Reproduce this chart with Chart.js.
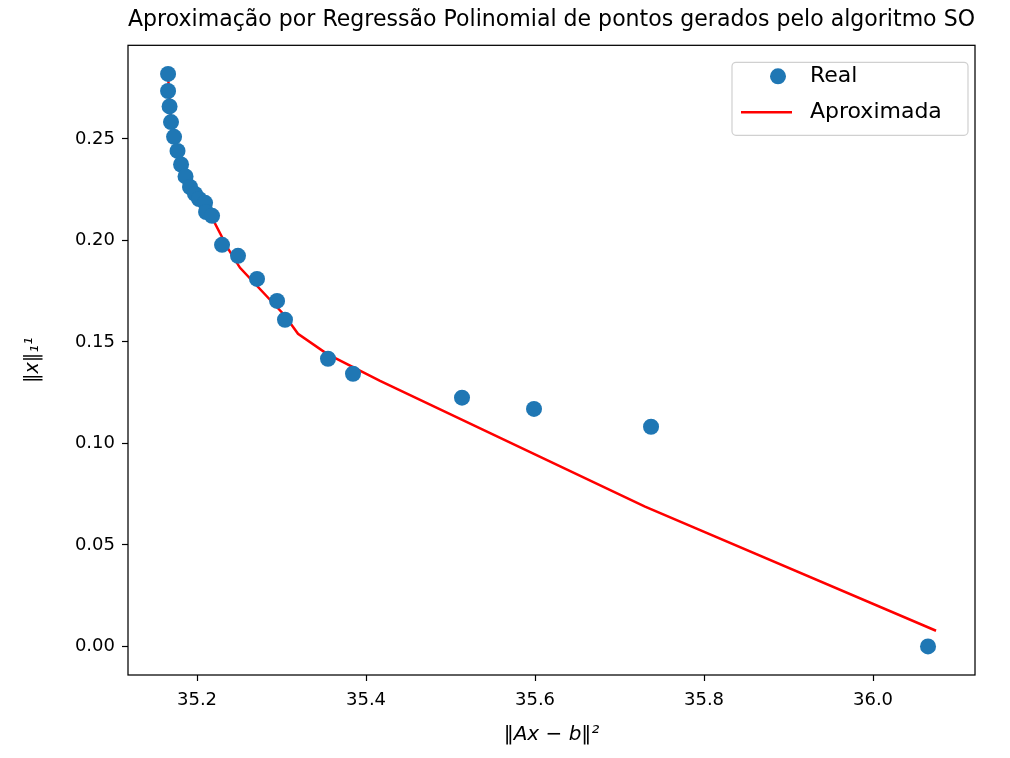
<!DOCTYPE html>
<html>
<head>
<meta charset="utf-8">
<script src="https://cdn.jsdelivr.net/npm/chart.js@4.4.0/dist/chart.umd.min.js"></script>
<style>
  html, body { margin: 0; padding: 0; background: #fff; }
  #wrap { width: 1010px; height: 758px; }
</style>
</head>
<body>
<div id="wrap"><canvas id="chart" width="1010" height="758"></canvas></div>
<script>
// Points from the SO algorithm
const realX = [35.1657, 35.1657, 35.1675, 35.1692, 35.1728, 35.1769, 35.1811, 35.1864, 35.1917,
               35.1976, 35.2024, 35.2095, 35.2107, 35.2178, 35.2296, 35.2485, 35.2710, 35.2947,
               35.3041, 35.3550, 35.3846, 35.5136, 35.5988, 35.7373, 36.0651];
const realY = [0.2820, 0.2736, 0.2660, 0.2583, 0.2510, 0.2441, 0.2374, 0.2315, 0.2263,
               0.2229, 0.2204, 0.2185, 0.2140, 0.2121, 0.1978, 0.1924, 0.1810, 0.1702,
               0.1609, 0.1417, 0.1343, 0.1225, 0.1170, 0.1082, 0.0000];

// Polynomial approximation curve
const fitX = [35.1657, 35.1692, 35.1751, 35.1811, 35.1893, 35.2012, 35.2154, 35.2367, 35.2509,
              35.3041, 35.3195, 35.3538, 35.4166, 35.7302, 36.0746];
const fitY = [0.2810, 0.2589, 0.2490, 0.2392, 0.2294, 0.2225, 0.2131, 0.1959, 0.1865,
              0.1629, 0.1540, 0.1441, 0.1308, 0.0688, 0.0077];

const xTicks = [35.2, 35.4, 35.6, 35.8, 36.0];
const yTicks = [0.00, 0.05, 0.10, 0.15, 0.20, 0.25];

const seriesNames = ['Real', 'Aproximada'];
const blue = '#1f77b4';
const red = '#ff0000';
const FONT = "'DejaVu Sans', sans-serif";

// frame around the plot + legend inside the plot area
const framePlugin = {
    id: 'frame',
    afterDraw(chart) {
        const { ctx, chartArea: a } = chart;
        ctx.save();
        ctx.strokeStyle = '#000';
        ctx.lineWidth = 1.25;
        ctx.strokeRect(a.left, a.top, a.right - a.left, a.bottom - a.top);

        // legend box
        const w = 236, h = 73;
        const bx = a.right - 7 - w, by = a.top + 17;
        ctx.beginPath();
        ctx.roundRect(bx, by, w, h, 4);
        ctx.fillStyle = 'rgba(255,255,255,0.8)';
        ctx.fill();
        ctx.strokeStyle = '#d0d0d0';
        ctx.lineWidth = 1.2;
        ctx.stroke();

        ctx.fillStyle = blue;
        ctx.beginPath();
        ctx.arc(bx + 46, by + 14, 8, 0, Math.PI * 2);
        ctx.fill();

        ctx.strokeStyle = red;
        ctx.lineWidth = 2.5;
        ctx.beginPath();
        ctx.moveTo(bx + 9, by + 50);
        ctx.lineTo(bx + 60, by + 50);
        ctx.stroke();

        ctx.fillStyle = '#000';
        ctx.font = '22px ' + FONT;
        ctx.textBaseline = 'middle';
        ctx.textAlign = 'left';
        ctx.fillText(seriesNames[0], bx + 78, by + 14);
        ctx.fillText(seriesNames[1], bx + 78, by + 50);
        ctx.restore();
    }
};

const tickGrid = {
    display: true,
    drawOnChartArea: false,
    drawTicks: true,
    tickLength: 6,
    tickColor: '#000',
    tickWidth: 1.2,
    color: '#000',
};

new Chart(document.getElementById('chart'), {
    type: 'scatter',
    data: {
        datasets: [
            {
                label: seriesNames[0],
                data: realX.map((x, i) => ({ x: x, y: realY[i] })),
                backgroundColor: blue,
                borderColor: blue,
                pointRadius: 8,
                pointBorderWidth: 0,
                showLine: false,
            },
            {
                label: seriesNames[1],
                data: fitX.map((x, i) => ({ x: x, y: fitY[i] })),
                borderColor: red,
                borderWidth: 2.5,
                pointRadius: 0,
                showLine: true,
                tension: 0,
            },
        ],
    },
    options: {
        responsive: false,
        animation: false,
        devicePixelRatio: 1,
        events: [],
        layout: { padding: { left: 0, right: 35, top: 0, bottom: 0 } },
        plugins: {
            legend: { display: false },
            tooltip: { enabled: false },
            title: {
                display: true,
                fullSize: false,
                text: 'Aproximação por Regressão Polinomial de pontos gerados pelo algoritmo SO',
                color: '#000',
                font: { family: FONT, size: 23.6, weight: 'normal' },
                padding: { top: 6, bottom: 11 },
            },
        },
        scales: {
            x: {
                type: 'linear',
                min: 35.1183,
                max: 36.1207,
                grid: tickGrid,
                border: { display: false },
                afterBuildTicks: axis => { axis.ticks = xTicks.map(v => ({ value: v })); },
                afterFit: scale => { scale.height = 83; },
                ticks: {
                    color: '#000',
                    padding: 9,
                    font: { family: FONT, size: 18 },
                    callback: v => v.toFixed(1),
                },
                title: {
                    display: true,
                    text: '‖Ax − b‖²',
                    color: '#000',
                    font: { family: FONT, size: 20, style: 'italic' },
                    padding: { top: 0, bottom: 11 },
                },
            },
            y: {
                type: 'linear',
                min: -0.0141,
                max: 0.2961,
                grid: tickGrid,
                border: { display: false },
                afterBuildTicks: axis => { axis.ticks = yTicks.map(v => ({ value: v })); },
                afterFit: scale => { scale.width = 128; },
                ticks: {
                    color: '#000',
                    padding: 7,
                    font: { family: FONT, size: 18 },
                    callback: v => v.toFixed(2),
                },
                title: {
                    display: true,
                    text: '‖x‖₁¹',
                    color: '#000',
                    font: { family: FONT, size: 19, style: 'italic' },
                    padding: { top: 22, bottom: 0 },
                },
            },
        },
    },
    plugins: [framePlugin],
});
</script>
</body>
</html>
